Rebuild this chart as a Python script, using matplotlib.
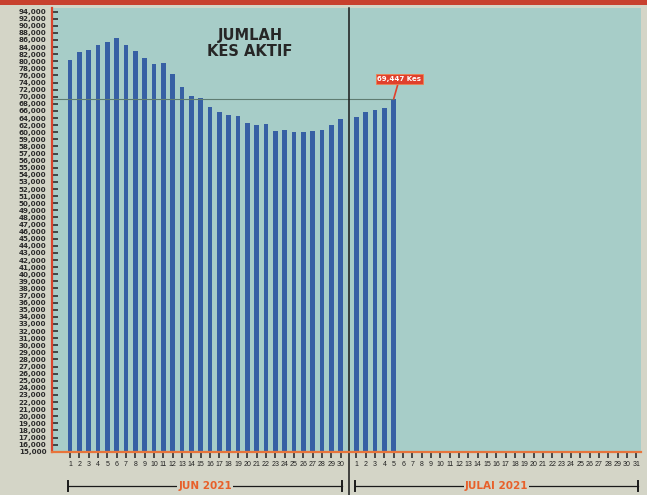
import numpy as np
import matplotlib
matplotlib.use('Agg')
import matplotlib.pyplot as plt
from matplotlib.patches import Rectangle
import matplotlib.transforms as mtransforms

# Kes aktif harian (anggaran dari gambar)
jun_days = list(range(1, 31))
jun_vals = [80400, 82500, 83250, 84500, 85350, 86550, 84700, 82850, 80850, 79350,
            79450, 76500, 72850, 70300, 69550, 67050, 65700, 64850, 64500, 62700,
            62100, 62400, 60300, 60550, 60000, 60200, 60400, 60550, 62100, 63850]
jul_days = list(range(1, 32))
jul_vals = [64300, 65700, 66300, 66850, 69447]

latest = 69447
latest_label = '69,447 Kes'

ytick_vals = list(range(15000, 60000, 1000)) + list(range(60000, 94001, 2000))
ytick_labels = [f'{v:,}' for v in ytick_vals]

paper = '#d4d5c7'
teal = '#a7cdc8'
bar_col = '#3760a4'


# skala berpecah: 1,000 per tanda di bawah 60,000, 2,000 di atasnya
def fwd(v):
    v = np.asarray(v, dtype=float)
    return np.where(v <= 60000, (v - 15000) / 1000.0, 45 + (v - 60000) / 2000.0)


def inv(u):
    u = np.asarray(u, dtype=float)
    return np.where(u <= 45, u * 1000.0 + 15000, 60000 + (u - 45) * 2000.0)


fig = plt.figure(figsize=(6.47, 4.95), dpi=100, facecolor=paper)
ax = fig.add_axes([52 / 647, 43.3 / 495, 589 / 647, 443.7 / 495])
ax.set_facecolor(teal)
ax.set_yscale('function', functions=(fwd, inv))

jun_x = np.arange(len(jun_days), dtype=float)
jul_x = 30.7 + np.arange(len(jul_days), dtype=float)
sep_x = 29.9

ax.bar(jun_x, np.array(jun_vals) - 15000, bottom=15000, width=0.5, color=bar_col)
ax.bar(jul_x[:len(jul_vals)], np.array(jul_vals) - 15000, bottom=15000, width=0.5,
       color=bar_col)

ax.set_xlim(-1.93, 61.2)
ax.set_ylim(15000, 95000)

# garisan rujukan & label
last_x = jul_x[len(jul_vals) - 1]
ax.hlines(latest, -1.93, last_x, color='#5f7d72', lw=0.8, zorder=1)
ax.annotate(latest_label, xy=(last_x, latest), xytext=(4, 12),
            textcoords='offset points', ha='center', va='bottom',
            fontsize=5, color='white', fontweight='bold',
            bbox=dict(boxstyle='square,pad=0.25', fc='#e0402c', ec='#f08050', lw=0.6),
            arrowprops=dict(arrowstyle='-', color='#e0402c', lw=1.2,
                            shrinkA=0, shrinkB=0))

ax.text(0.336, 0.92, 'JUMLAH\nKES AKTIF', transform=ax.transAxes, ha='center',
        va='center', fontsize=10.5, fontweight='bold', color='#262626',
        linespacing=1.05, family='DejaVu Sans')

# paksi
for s in ['top', 'right']:
    ax.spines[s].set_visible(False)
ax.spines['left'].set_color('#d9452c')
ax.spines['left'].set_linewidth(1.6)
ax.spines['bottom'].set_color('#e8743a')
ax.spines['bottom'].set_linewidth(1.6)

ax.set_yticks(ytick_vals)
ax.set_yticklabels(ytick_labels, fontsize=5.1, fontweight='bold', color='#2a2a2a',
                   family='DejaVu Sans')
ax.tick_params(axis='y', direction='in', length=4, width=1.1, color='#222222', pad=4)
ax.yaxis.set_minor_locator(matplotlib.ticker.NullLocator())

xt = list(jun_x) + list(jul_x)
xl = [str(d) for d in jun_days] + [str(d) for d in jul_days]
ax.set_xticks(xt)
ax.set_xticklabels(xl, fontsize=5, color='#222222', family='Liberation Sans')
ax.tick_params(axis='x', direction='out', length=4.5, width=1.1, color='#222222', pad=2.5)

# garisan pemisah bulan
trans = mtransforms.blended_transform_factory(ax.transData, ax.transAxes)
ax.plot([sep_x, sep_x], [1.0, -0.1], transform=trans, color='#1a1a1a', lw=1.1,
        clip_on=False)

# kurungan bulan
by = -0.077
for x0, x1, lab in [(jun_x[0] - 0.2, jun_x[-1] + 0.2, 'JUN 2021'),
                    (jul_x[0] - 0.2, jul_x[-1] + 0.2, 'JULAI 2021')]:
    ax.plot([x0, x1], [by, by], transform=trans, color='#1a1a1a', lw=0.9, clip_on=False)
    for xx in (x0, x1):
        ax.plot([xx, xx], [by - 0.012, by + 0.012], transform=trans, color='#1a1a1a',
                lw=1.4, clip_on=False)
    ax.text((x0 + x1) / 2, by, lab, transform=trans, ha='center', va='center',
            fontsize=7.5, fontweight='bold', color='#e8602a',
            bbox=dict(boxstyle='square,pad=0.1', fc=paper, ec='none'))

# jalur merah di atas
fig.patches.append(Rectangle((0, 1 - 5 / 495), 1, 5 / 495, transform=fig.transFigure,
                             fc='#c8402e', ec='none', zorder=0))

fig.savefig('out.png', dpi=100, facecolor=paper)
